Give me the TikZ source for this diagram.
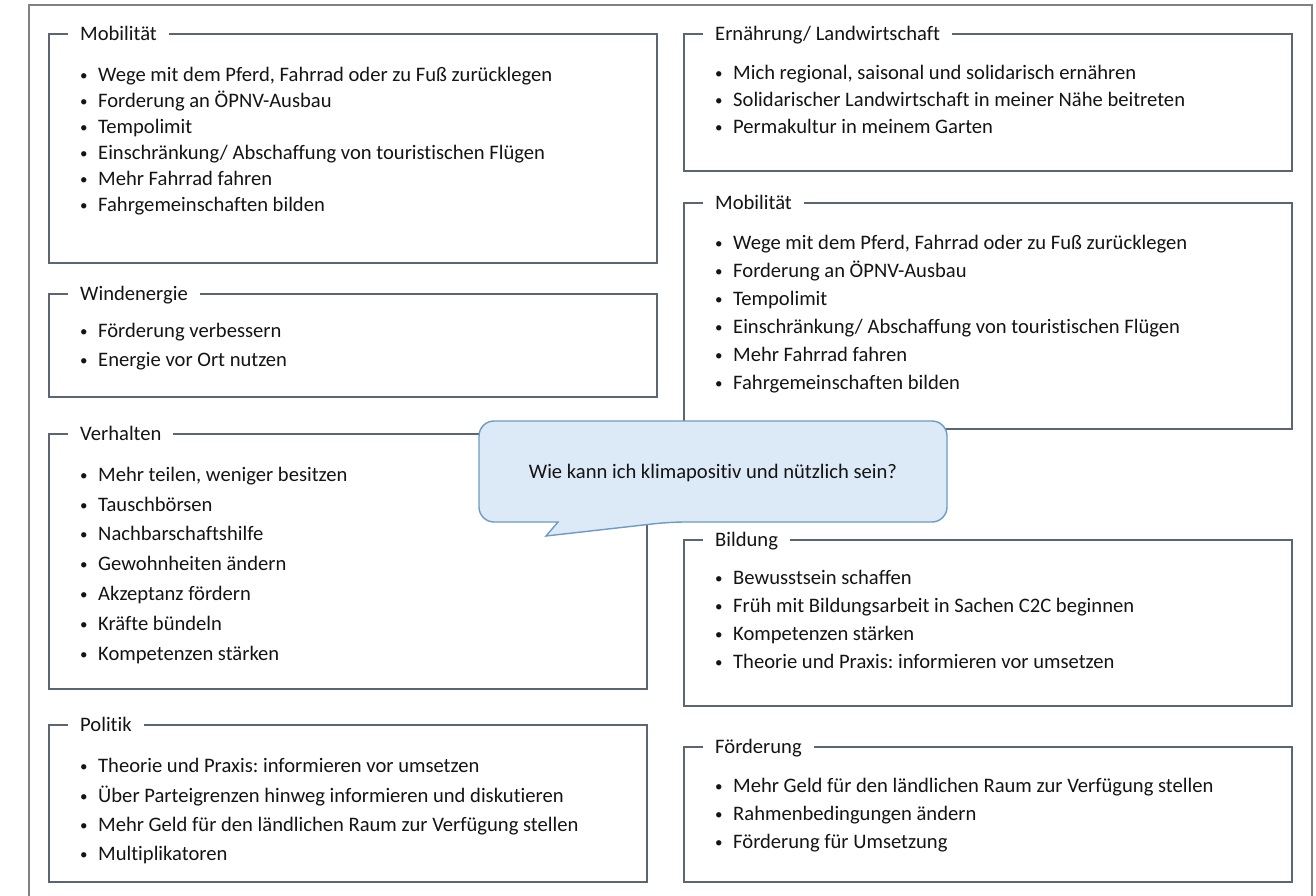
\documentclass[tikz,border=0pt]{standalone}
\usepackage{fontspec}
\setmainfont{Carlito}[Ligatures=NoCommon]
\definecolor{boxline}{RGB}{92,102,114}
\definecolor{frameline}{RGB}{130,130,130}
\definecolor{cfill}{RGB}{220,233,246}
\definecolor{cline}{RGB}{110,155,195}
\definecolor{txt}{RGB}{20,20,20}
\newcommand{\bul}[1]{\makebox[18pt][l]{\raisebox{1.2pt}{\fontsize{15}{15}\selectfont\textbullet}}#1}
\frenchspacing
\begin{document}
\frenchspacing
\begin{tikzpicture}[x=1pt,y=-1pt,
  every node/.style={font=\fontsize{20.6}{24}\selectfont, text=txt, inner sep=0pt, text height=13pt, text depth=0pt},
  topic/.style={draw=boxline, line width=1.3pt},
  ttl/.style={anchor=west, fill=white, inner xsep=12pt, inner ysep=4pt},
  itm/.style={anchor=west},
  outer/.style={draw=frameline, line width=1.6pt},
  callout/.style={draw=cline, fill=cfill, line width=1.4pt}]
\useasboundingbox (0,0) rectangle (1316,896);
\draw[outer] (29,896) -- (29,5) -- (1312,5) -- (1312,896);

% ---------- left column ----------
\draw[topic] (49,34) rectangle (657,263);
\node[ttl] (lmob) at (68,34) {Mobilität};
\node[itm] (lmob1) at (80,75) {\bul{Wege mit dem Pferd, Fahrrad oder zu Fuß zurücklegen}};
\node[itm] (lmob2) at (80,101) {\bul{Forderung an ÖPNV-Ausbau}};
\node[itm] (lmob3) at (80,127) {\bul{Tempolimit}};
\node[itm] (lmob4) at (80,153) {\bul{Einschränkung/ Abschaffung von touristischen Flügen}};
\node[itm] (lmob5) at (80,179) {\bul{Mehr Fahrrad fahren}};
\node[itm] (lmob6) at (80,205) {\bul{Fahrgemeinschaften bilden}};

\draw[topic] (49,294) rectangle (657,397);
\node[ttl] (wind) at (68,294) {Windenergie};
\node[itm] (wind1) at (80,331) {\bul{Förderung verbessern}};
\node[itm] (wind2) at (80,360) {\bul{Energie vor Ort nutzen}};

\draw[topic] (49,434) rectangle (647,689);
\node[ttl] (verh) at (68,434) {Verhalten};
\node[itm] (verh1) at (80,475) {\bul{Mehr teilen, weniger besitzen}};
\node[itm] (verh2) at (80,505) {\bul{Tauschbörsen}};
\node[itm] (verh3) at (80,534) {\bul{Nachbarschaftshilfe}};
\node[itm] (verh4) at (80,564) {\bul{Gewohnheiten ändern}};
\node[itm] (verh5) at (80,594) {\bul{Akzeptanz fördern}};
\node[itm] (verh6) at (80,624) {\bul{Kräfte bündeln}};
\node[itm] (verh7) at (80,654) {\bul{Kompetenzen stärken}};

\draw[topic] (49,725) rectangle (647,882);
\node[ttl] (pol) at (68,725) {Politik};
\node[itm] (pol1) at (80,766) {\bul{Theorie und Praxis: informieren vor umsetzen}};
\node[itm] (pol2) at (80,796) {\bul{Über Parteigrenzen hinweg informieren und diskutieren}};
\node[itm] (pol3) at (80,825) {\bul{Mehr Geld für den ländlichen Raum zur Verfügung stellen}};
\node[itm] (pol4) at (80,854) {\bul{Multiplikatoren}};

% ---------- right column ----------
\draw[topic] (684,34) rectangle (1292,171);
\node[ttl] (ern) at (703,34) {Ernährung/ Landwirtschaft};
\node[itm] (ern1) at (715,73) {\bul{Mich regional, saisonal und solidarisch ernähren}};
\node[itm] (ern2) at (715,100) {\bul{Solidarischer Landwirtschaft in meiner Nähe beitreten}};
\node[itm] (ern3) at (715,127) {\bul{Permakultur in meinem Garten}};

\draw[topic] (684,203) rectangle (1292,429);
\node[ttl] (rmob) at (703,203) {Mobilität};
\node[itm] (rmob1) at (715,243) {\bul{Wege mit dem Pferd, Fahrrad oder zu Fuß zurücklegen}};
\node[itm] (rmob2) at (715,271) {\bul{Forderung an ÖPNV-Ausbau}};
\node[itm] (rmob3) at (715,299) {\bul{Tempolimit}};
\node[itm] (rmob4) at (715,327) {\bul{Einschränkung/ Abschaffung von touristischen Flügen}};
\node[itm] (rmob5) at (715,355) {\bul{Mehr Fahrrad fahren}};
\node[itm] (rmob6) at (715,383) {\bul{Fahrgemeinschaften bilden}};

\draw[topic] (684,540) rectangle (1292,706);
\node[ttl] (bild) at (703,540) {Bildung};
\node[itm] (bild1) at (715,578) {\bul{Bewusstsein schaffen}};
\node[itm] (bild2) at (715,606) {\bul{Früh mit Bildungsarbeit in Sachen C2C beginnen}};
\node[itm] (bild3) at (715,634) {\bul{Kompetenzen stärken}};
\node[itm] (bild4) at (715,662) {\bul{Theorie und Praxis: informieren vor umsetzen}};

\draw[topic] (684,747) rectangle (1292,882);
\node[ttl] (foe) at (703,747) {Förderung};
\node[itm] (foe1) at (715,786) {\bul{Mehr Geld für den ländlichen Raum zur Verfügung stellen}};
\node[itm] (foe2) at (715,814) {\bul{Rahmenbedingungen ändern}};
\node[itm] (foe3) at (715,842) {\bul{Förderung für Umsetzung}};

% ---------- callout ----------
\draw[callout] (713,421) [rounded corners=15pt] -- (947,421) -- (947,522) -- (670,522)
  [sharp corners] -- (546,536) -- (558,522) [rounded corners=15pt] -- (479,522) -- (479,421) -- cycle;
\node (q) at (713,472) {Wie kann ich klimapositiv und nützlich sein?};
\end{tikzpicture}
\end{document}
